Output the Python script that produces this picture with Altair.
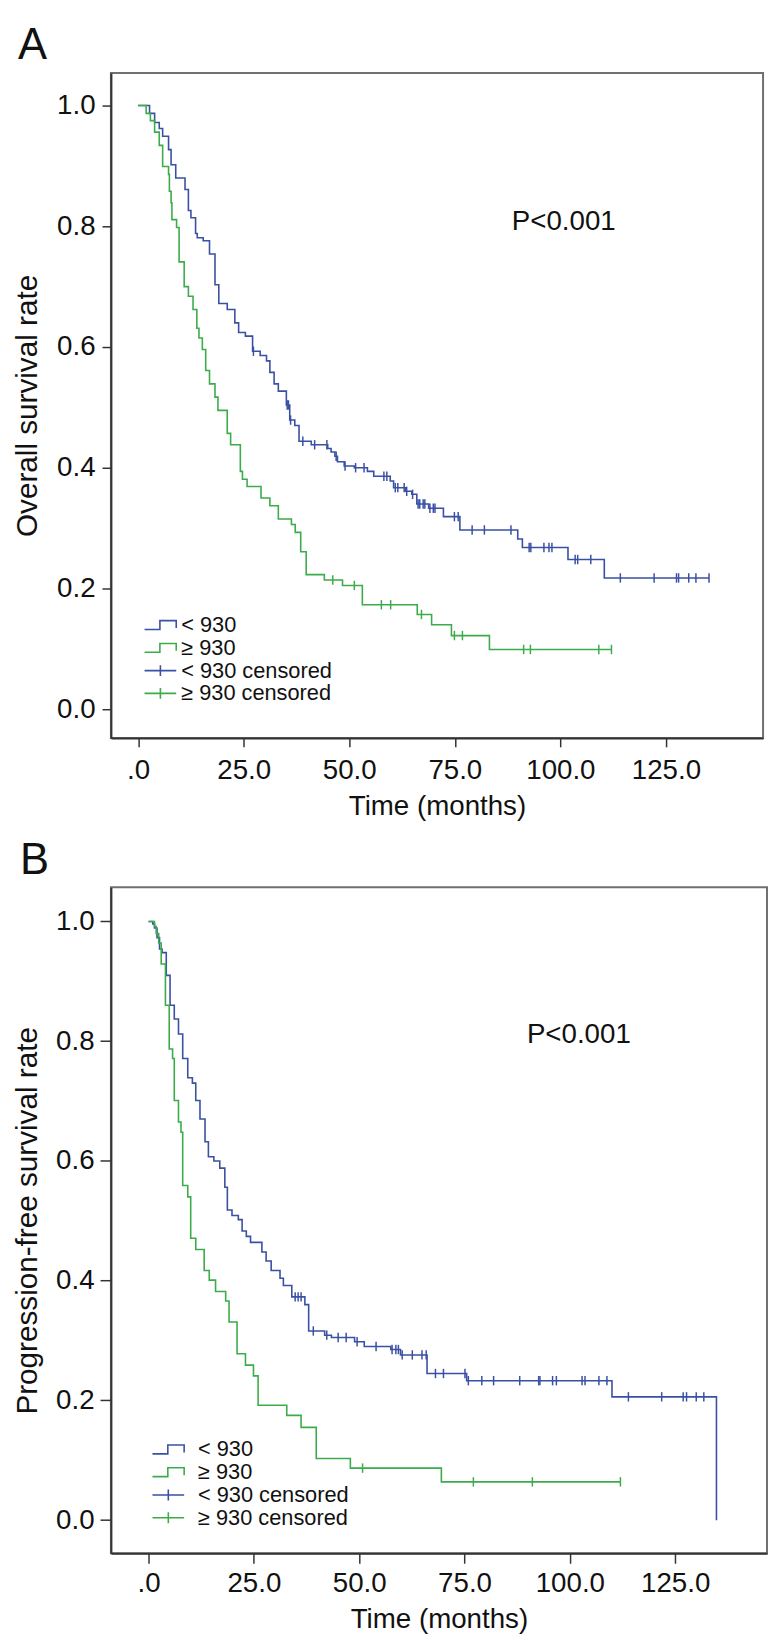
import altair as alt
import pandas as pd

FONT = "Liberation Sans"
BLUE = "#3a50a4"
GREEN = "#3cac4a"

LABELS = ["< 930", "≥ 930"]
CENS_LABELS = ["< 930 censored", "≥ 930 censored"]
X_TICKS = [0, 25, 50, 75, 100, 125]
Y_TICKS = [0.0, 0.2, 0.4, 0.6, 0.8, 1.0]
P_TEXT = "P<0.001"

# ---- Panel A: overall survival ----
A_LOW_T = [0, 2.7, 3.9, 5.0, 5.8, 7.2, 7.8, 8.9, 11.1, 11.9, 12.5, 13.6, 14.0, 15.4, 16.9, 18.2,
           19.1, 21.1, 22.9, 23.8, 25.4, 27.1, 28.9, 30.4, 31.2, 32.2, 33.2, 35.1, 35.9, 37.1,
           38.1, 41.0, 44.9, 45.7, 46.6, 47.2, 48.8, 51.2, 54.3, 55.8, 59.7, 60.5, 63.3, 64.8,
           66.0, 68.8, 72.3, 76.2, 89.9, 91.0, 101.8, 110.4]
A_LOW_S = [1.0, .987, .972, .962, .949, .927, .902, .880, .861, .826, .814, .788, .781, .776, .754,
           .703, .672, .662, .640, .624, .618, .593, .586, .577, .558, .539, .527, .504, .479, .470,
           .444, .438, .432, .426, .419, .410, .403, .400, .394, .386, .378, .367, .361, .356,
           .340, .333, .319, .297, .282, .268, .248, .2175]
A_LOW_C = [27.3, 35.3, 35.6, 36.1, 39.0, 41.8, 44.7, 46.9, 49.0, 51.5, 53.5, 58.2, 58.9, 60.9,
           61.5, 63.0, 63.6, 65.0, 66.3, 66.7, 67.5, 67.9, 69.1, 69.9, 70.3, 74.9, 75.8, 79.1,
           82.0, 88.3, 92.6, 93.0, 96.1, 97.3, 98.0, 103.5, 104.1, 107.2, 114.2, 122.2, 127.5,
           128.0, 130.4, 132.1, 135.2]
A_HIGH_T = [0, 1.9, 2.9, 3.9, 5.0, 5.8, 7.2, 7.4, 7.8, 8.0, 9.1, 9.7, 10.9, 11.9, 13.0, 13.9,
            14.4, 15.2, 16.0, 16.9, 18.2, 18.9, 21.1, 21.9, 24.2, 24.7, 25.8, 29.1, 31.2, 33.2,
            36.3, 37.2, 38.5, 39.8, 44.1, 48.4, 53.1, 66.1, 69.5, 74.2, 83.2]
A_HIGH_S = [1.0, .987, .975, .956, .934, .899, .886, .858, .839, .811, .798, .741, .700, .684,
            .662, .631, .615, .596, .561, .539, .517, .495, .457, .438, .394, .381, .369, .350,
            .337, .315, .306, .293, .261, .223, .214, .205, .173, .157, .140, .122, .099]
A_HIGH_C = [46.1, 51.2, 57.6, 59.8, 67.1, 74.9, 76.8, 91.3, 92.9, 109.1, 112.1]

# ---- Panel B: progression-free survival ----
B_LOW_T = [0, 1.0, 1.4, 2.0, 2.6, 3.2, 4.2, 5.1, 6.1, 7.1, 8.1, 9.3, 10.4, 11.2, 12.2, 13.4,
           14.2, 15.5, 16.9, 18.1, 18.7, 19.8, 21.3, 22.2, 23.2, 24.2, 26.9, 27.9, 29.1, 31.2,
           32.0, 34.0, 37.1, 38.0, 41.8, 43.4, 48.9, 51.2, 57.5, 59.8, 66.1, 75.5, 110.0, 134.8]
B_LOW_S = [1.0, .996, .989, .973, .954, .948, .910, .860, .837, .812, .771, .739, .730, .701,
           .670, .632, .607, .600, .588, .556, .518, .509, .502, .483, .474, .464, .448, .433,
           .417, .404, .392, .373, .360, .316, .309, .305, .298, .290, .285, .276, .245, .233,
           .206, 0.0]
B_LOW_C = [34.8, 35.5, 36.2, 39.1, 42.3, 45.0, 46.9, 49.5, 54.0, 57.8, 58.7, 59.3, 60.2, 62.6,
           64.9, 65.9, 68.1, 70.0, 75.1, 75.9, 79.1, 81.9, 88.1, 92.6, 92.9, 95.9, 96.8, 102.9,
           103.6, 106.9, 108.8, 113.9, 121.8, 126.9, 127.7, 130.0, 131.8]
B_HIGH_T = [0, 1.4, 1.8, 2.4, 3.0, 4.0, 4.9, 5.7, 6.1, 7.1, 7.7, 8.1, 9.3, 10.0, 11.2, 13.2,
            14.4, 15.9, 18.3, 19.1, 21.0, 23.0, 24.9, 26.0, 32.8, 36.2, 39.8, 47.9, 69.5]
B_HIGH_S = [1.0, .992, .980, .964, .929, .860, .787, .771, .701, .665, .648, .559, .540, .471,
            .452, .417, .401, .382, .366, .331, .278, .259, .241, .192, .175, .155, .103, .087,
            .064]
B_HIGH_C = [50.8, 77.1, 91.1, 112.0]

STEP_PATH = "M-1,0.45L0.55,0.45L0.55,-0.45L2.2,-0.45L2.2,0.3"
CROSS_PATH = "M-1,0L2.2,0M0.6,-0.55L0.6,0.55"
TICK_PATH = "M0,-1L0,1"


def level(T, S, t):
    v = S[0]
    for ti, si in zip(T, S):
        if ti <= t:
            v = si
    return v


def line_rows(T, S, C, label):
    rows = [dict(time=t, surv=s, group=label) for t, s in zip(T, S)]
    if C and max(C) > T[-1]:
        rows.append(dict(time=max(C), surv=S[-1], group=label))
    return rows


def cens_rows(T, S, C, label):
    return [dict(time=c, surv=level(T, S, c), cgroup=label) for c in C]


def panel(letter, ytitle, low, high, xdom, ydom, w, h, lay):
    lines = pd.DataFrame(line_rows(*low, LABELS[0]) + line_rows(*high, LABELS[1]))
    cens = pd.DataFrame(cens_rows(*low, CENS_LABELS[0]) + cens_rows(*high, CENS_LABELS[1]))
    ptxt = pd.DataFrame([dict(time=lay["px"], surv=lay["py"], text=P_TEXT)])

    xaxis = alt.Axis(values=X_TICKS, title="Time (months)", grid=False,
                     labelExpr="datum.value == 0 ? '.0' : format(datum.value, '.1f')",
                     tickSize=lay["xtick"], labelPadding=lay["xlp"], titlePadding=lay["xtp"])
    yaxis = alt.Axis(values=Y_TICKS, format=".1f", title=ytitle, grid=False,
                     tickSize=lay["ytick"], labelPadding=lay["ylp"], titlePadding=lay["ytp"],
                     titleFontSize=30)
    x = alt.X("time:Q", scale=alt.Scale(domain=xdom, nice=False, zero=False), axis=xaxis)
    y = alt.Y("surv:Q", scale=alt.Scale(domain=ydom, nice=False, zero=False), axis=yaxis)

    leg_common = dict(orient="none", title=None, padding=0, labelFont=FONT, labelFontSize=22,
                      labelColor="#111", symbolSize=400, labelOffset=lay["loff"], rowPadding=1,
                      labelLimit=400, symbolStrokeWidth=1.6, symbolFillColor="transparent")

    line_layer = alt.Chart(lines).mark_line(interpolate="step-after", strokeWidth=1.6).encode(
        x=x, y=y,
        color=alt.Color("group:N", scale=alt.Scale(domain=LABELS, range=[BLUE, GREEN]),
                        legend=alt.Legend(legendX=lay["lx"], legendY=lay["ly"],
                                          symbolType=STEP_PATH, **leg_common)),
        detail="group:N",
    )
    cens_layer = alt.Chart(cens).mark_point(shape=TICK_PATH, filled=False, size=90,
                                            strokeWidth=1.5, opacity=1).encode(
        x="time:Q", y="surv:Q",
        stroke=alt.Stroke("cgroup:N", scale=alt.Scale(domain=CENS_LABELS, range=[BLUE, GREEN]),
                          legend=alt.Legend(legendX=lay["lx"], legendY=lay["ly"] + 46,
                                            symbolType=CROSS_PATH, **leg_common)),
    )
    text_layer = alt.Chart(ptxt).mark_text(align="left", baseline="middle", font=FONT,
                                           fontSize=28, color="#111").encode(
        x="time:Q", y="surv:Q", text="text:N")

    return alt.layer(line_layer, cens_layer, text_layer).resolve_scale(
        color="independent", stroke="independent").properties(
        width=w, height=h,
        title=alt.TitleParams(letter, anchor="start", frame="group", dx=lay["tdx"],
                              offset=lay["toff"], baseline="alphabetic", fontSize=44,
                              fontWeight="normal", font=FONT, color="#111"),
    )


lay_a = dict(px=88.5, py=0.807, xtick=9, xlp=10, xtp=8, ytick=9, ylp=7, ytp=14,
             lx=33, ly=547, loff=16, tdx=-94, toff=-30)
lay_b = dict(px=89.8, py=0.810, xtick=10, xlp=7, xtp=8, ytick=11, ylp=6, ytp=13,
             lx=41, ly=557, loff=25, tdx=-92, toff=-31)

pa = panel("A", "Overall survival rate", (A_LOW_T, A_LOW_S, A_LOW_C),
           (A_HIGH_T, A_HIGH_S, A_HIGH_C), [-6.45, 148.0], [-0.0475, 1.054], 659, 672, lay_a)
pb = panel("B", "Progression-free survival rate", (B_LOW_T, B_LOW_S, B_LOW_C),
           (B_HIGH_T, B_HIGH_S, B_HIGH_C), [-8.94, 146.8], [-0.0554, 1.057], 663, 673, lay_b)

chart = alt.vconcat(pa, pb, spacing=18).properties(
    padding={"top": 7, "left": 4, "right": 0, "bottom": 0}).configure_view(
    stroke="#707070", strokeWidth=2).configure_axis(
    domainColor="#333333", domainWidth=2, tickColor="#333333", tickWidth=1.5,
    labelFont=FONT, labelFontSize=28, labelColor="#111", titleFont=FONT, titleFontSize=28,
    titleFontWeight="normal", titleColor="#111")

chart.save("out.html", embed_options={"renderer": "svg", "actions": False})
